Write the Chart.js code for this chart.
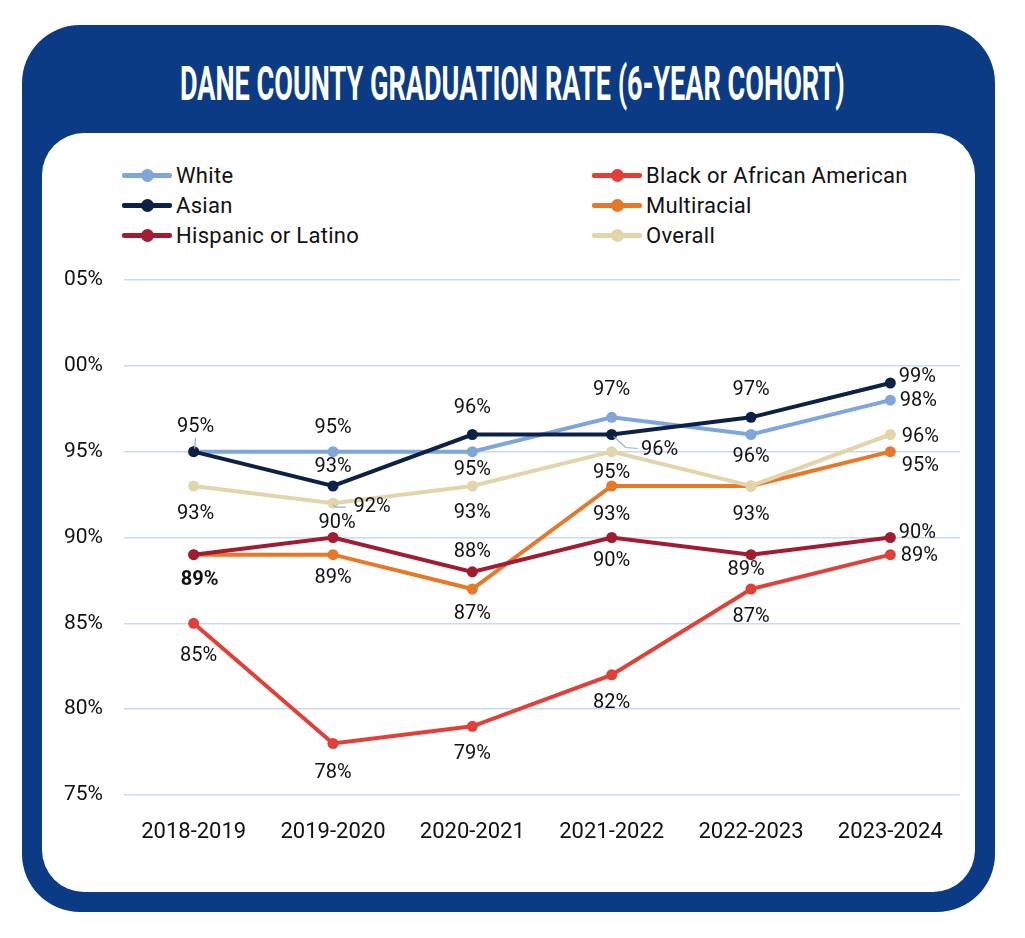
<!DOCTYPE html>
<html>
<head>
<meta charset="utf-8">
<title>Dane County Graduation Rate (6-Year Cohort)</title>
<script src="https://cdn.jsdelivr.net/npm/chart.js@4.4.1/dist/chart.umd.min.js"></script>
<style>
    html, body { margin: 0; padding: 0; background: #fff; }
    #page { position: relative; width: 1025px; height: 938px; overflow: hidden; font-family: Roboto, Arial, sans-serif; }
    #frame { position: absolute; left: 22px; top: 25px; width: 973px; height: 887px; background: #0b3b85; border-radius: 58px; }
    #panel { position: absolute; left: 42px; top: 133px; width: 933px; height: 759px; background: #fff; border-radius: 42px; }
    #title { position: absolute; left: -488px; top: 59px; width: 2000px; text-align: center; color: #fff;
             font: 700 49px Roboto, sans-serif; line-height: 49px; white-space: nowrap; }
    #title span { display: inline-block; transform-origin: center center; }
    .legend-item { position: absolute; height: 26px; display: flex; align-items: center;
                   font: 22px Roboto, sans-serif; letter-spacing: 0.3px; color: #111; white-space: nowrap; }
    .legend-swatch { position: relative; width: 50px; height: 26px; margin-right: 4px; }
    .legend-swatch .bar { position: absolute; left: 0; top: 11px; width: 50px; height: 5px; border-radius: 2px; }
    .legend-swatch .dot { position: absolute; left: 19px; top: 7px; width: 13px; height: 13px; border-radius: 50%; }
    #chart-wrap { position: absolute; left: 0; top: 0; width: 1025px; height: 938px; }
</style>
</head>
<body>
<div id="page">
    <div id="frame"></div>
    <div id="panel"></div>
    <div id="title"><span>DANE COUNTY GRADUATION RATE (6-YEAR COHORT)</span></div>
    <div id="legend"></div>
    <div id="chart-wrap"><canvas id="grad-chart"></canvas></div>
</div>

<script>
// Data
const years = ['2018-2019', '2019-2020', '2020-2021', '2021-2022', '2022-2023', '2023-2024'];

const white       = [95, 95, 95, 97, 96, 98];
const asian       = [95, 93, 96, 96, 97, 99];
const hispanic    = [89, 90, 88, 90, 89, 90];
const black       = [85, 78, 79, 82, 87, 89];
const multiracial = [89, 89, 87, 93, 93, 95];
const overall     = [93, 92, 93, 95, 93, 96];

// Tick labels as printed on the original (the leading "1" is cut off)
const yTickValues = [75, 80, 85, 90, 95, 100, 105];
const yTickLabels = ['75%', '80%', '85%', '90%', '95%', '00%', '05%'];

// Label placement per point: [dx, dy] from the marker, null = no label
const whiteLabelPos       = [[2, -25], [0, -24], [0, 18], [0, -27], [0, 22], [28, 1]];
const asianLabelPos       = [null, [0, -19], [0, -27], [48, 15], [0, -27], [27, -6]];
const hispanicLabelPos    = [null, [4, -15], [0, -20], [0, 23], [-5, 15], [27, -5]];
const blackLabelPos       = [[5, 33], [0, 29], [0, 28], [0, 28], [0, 28], [29, 1]];
const multiracialLabelPos = [[6, 25], [0, 23], [0, 25], [0, 29], null, [30, 14]];
const overallLabelPos     = [[2, 28], [39, 4], [0, 27], [0, 21], [0, 29], [30, 2]];

const COLORS = {
    white: '#7ea6db',
    asian: '#0d2146',
    hispanic: '#a21c31',
    black: '#e23f37',
    multiracial: '#e87827',
    overall: '#e2d4ab',
    grid: '#cad9f0',
    leader: '#8fb0e0',
    text: '#111111'
};

// Legend slots: [left, centerY]
const LEGEND_SLOTS = {
    'White': [122, 175],
    'Asian': [122, 205],
    'Hispanic or Latino': [122, 235],
    'Black or African American': [592, 175],
    'Multiracial': [592, 205],
    'Overall': [592, 235]
};

function makeSeries(label, values, color, labelPos, order) {
    return {
        label: label,
        data: values,
        borderColor: color,
        backgroundColor: color,
        pointBackgroundColor: color,
        pointBorderWidth: 0,
        pointRadius: 5.5,
        borderWidth: 4,
        tension: 0,
        order: order,
        labelPos: labelPos
    };
}

// Per-point value labels drawn after the lines
const valueLabels = {
    id: 'valueLabels',
    afterDatasetsDraw(chart) {
        const ctx = chart.ctx;
        ctx.save();
        ctx.textAlign = 'center';
        ctx.textBaseline = 'middle';
        ctx.fillStyle = COLORS.text;

        chart.data.datasets.forEach((ds, di) => {
            const meta = chart.getDatasetMeta(di);
            meta.data.forEach((pt, i) => {
                const off = ds.labelPos[i];
                if (!off) return;
                const bold = ds.label === 'Multiracial' && i === 0;
                ctx.font = (bold ? '700 ' : '400 ') + '20px Roboto, sans-serif';
                ctx.fillText(ds.data[i] + '%', pt.x + off[0], pt.y + off[1]);
            });
        });

        // small leader lines where the original has them
        ctx.strokeStyle = COLORS.leader;
        ctx.lineWidth = 1.2;
        const lead = (di, i, path) => {
            const pt = chart.getDatasetMeta(di).data[i];
            ctx.beginPath();
            path.forEach((p, k) => {
                if (k === 0) ctx.moveTo(pt.x + p[0], pt.y + p[1]);
                else ctx.lineTo(pt.x + p[0], pt.y + p[1]);
            });
            ctx.stroke();
        };
        lead(0, 0, [[1, -3], [2, -14]]);
        lead(2, 3, [[2, 2], [14, 13], [26, 14]]);
        lead(5, 1, [[0, 2], [3, 4], [13, 4]]);
        ctx.restore();
    }
};

function buildLegend(chart) {
    const legend = document.getElementById('legend');
    legend.innerHTML = '';
    chart.data.datasets.forEach(ds => {
        const slot = LEGEND_SLOTS[ds.label];
        const item = document.createElement('div');
        item.className = 'legend-item';
        item.style.left = slot[0] + 'px';
        item.style.top = (slot[1] - 13) + 'px';
        item.innerHTML = `
            <div class="legend-swatch">
                <div class="bar" style="background:${ds.borderColor}"></div>
                <div class="dot" style="background:${ds.borderColor}"></div>
            </div>
            <span>${ds.label}</span>
        `;
        legend.appendChild(item);
    });
}

function fitTitle() {
    const span = document.querySelector('#title span');
    const w = span.offsetWidth;
    span.style.transform = `scaleX(${665 / w})`;
}

function initializeChart() {
    const ctx = document.getElementById('grad-chart').getContext('2d');
    return new Chart(ctx, {
        type: 'line',
        data: {
            labels: years,
            datasets: [
                makeSeries('White', white, COLORS.white, whiteLabelPos, 6),
                makeSeries('Black or African American', black, COLORS.black, blackLabelPos, 5),
                makeSeries('Asian', asian, COLORS.asian, asianLabelPos, 4),
                makeSeries('Multiracial', multiracial, COLORS.multiracial, multiracialLabelPos, 3),
                makeSeries('Hispanic or Latino', hispanic, COLORS.hispanic, hispanicLabelPos, 2),
                makeSeries('Overall', overall, COLORS.overall, overallLabelPos, 1)
            ]
        },
        options: {
            responsive: true,
            maintainAspectRatio: false,
            animation: false,
            layout: {
                padding: { left: 50, right: 65, top: 280, bottom: 100 }
            },
            plugins: {
                legend: { display: false },
                tooltip: { enabled: false }
            },
            scales: {
                x: {
                    offset: true,
                    grid: { display: false },
                    border: { display: false },
                    ticks: {
                        color: COLORS.text,
                        font: { family: 'Roboto', size: 22 },
                        padding: 16,
                        maxRotation: 0
                    },
                    afterFit: scale => { scale.height = 43; }
                },
                y: {
                    min: 75,
                    max: 105,
                    grid: { color: COLORS.grid, lineWidth: 1.5, drawTicks: false },
                    border: { display: false },
                    ticks: {
                        stepSize: 5,
                        color: COLORS.text,
                        font: { family: 'Roboto', size: 21 },
                        padding: 21,
                        callback: value => yTickLabels[yTickValues.indexOf(value)]
                    },
                    afterFit: scale => { scale.width = 74; }
                }
            }
        },
        plugins: [valueLabels]
    });
}

document.addEventListener('DOMContentLoaded', () => {
    fitTitle();
    const chart = initializeChart();
    buildLegend(chart);
});
</script>
</body>
</html>
